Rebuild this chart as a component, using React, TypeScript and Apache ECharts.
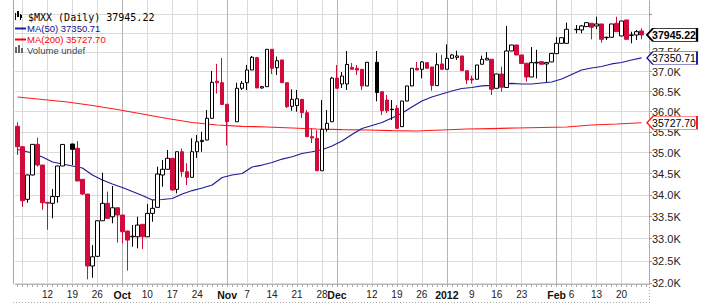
import React, { useEffect, useRef } from 'react';
import * as echarts from 'echarts';

// ---------- data ----------
const firstDay = '2011-09-02';
const dayCount = 127; // weekdays shown on the axis (last one empty)

const opens: (number | null)[] = [
  35640, 35145, 33899, 34470, 35202, 34706, 33830, 33806, 33964, 34683,
  null, 35210, 35106, 34368, 34023, 32384, 32600, 33405, 33806, 33497,
  33704, 33536, 33170, 33040, 33040, 33323, 33040, 33574, 33713, 34470,
  34605, 34866, 34132, 35024, 34548, 34415, 35024, 35270, 35306, 35836,
  36760, 36722, 36183, null, 35752, 36582, 36722, 37043, 37358, 36590,
  36622, 37573, 37102, 37299, 36722, 36133, 36150, 36306, 35974, 35387,
  35348, 34571, 35567, 35752, 36838, 36690, 36690, 37110, 37086, 37061,
  36640, null, 37240, 36496, 36289, 36060, 36083, 35631, 36264, 36640,
  37087, 37061, 37230, 37120, 36648, 37197, 37061, 37342, 37365, 37402,
  37025, 36820, 36808, 37189, 37299, 37317, 36581, 36942, 36602, 37530,
  37684, 37427, 37214, 36866, 37222, 37256, 37197, 37248, 37461, 37727,
  37727, null, 38092, 38074, 38161, 38249, 38179, 38231, 37873, 37884,
  38249, 37918, 38336, 37944, 37944, 38048,
];
const closes: (number | null)[] = [
  35145, 33867, 34470, 35202, 34706, 33820, 33810, 33964, 34683, 35200,
  null, 35082, 34328, 34023, 32384, 32590, 33405, 33806, 33460, 33704,
  33536, 33155, 32966, 33052, 33307, 33040, 33574, 33690, 34493, 34605,
  34866, 34116, 35024, 34548, 34415, 35024, 35265, 35300, 35836, 36732,
  36720, 36178, 35752, null, 36582, 36707, 37043, 37368, 36590, 36622,
  37573, 37086, 37281, 36722, 36123, 36306, 36320, 35974, 35387, 35355,
  34571, 35567, 35713, 36838, 36582, 36891, 37184, 37061, 37043, 36640,
  37240, null, 36476, 36024, 36024, 36048, 35591, 36264, 36640, 37087,
  37043, 37248, 37087, 36652, 37179, 37061, 37342, 37427, 37402, 37025,
  36790, 36790, 37171, 37317, 37342, 36556, 36942, 36607, 37530, 37684,
  37427, 37210, 36866, 37230, 37240, 37189, 37236, 37466, 37727, 37873,
  38092, null, 38082, 38179, 38266, 38145, 38231, 37831, 37884, 38231,
  38030, 38310, 37831, 37936, 38030, 37945.22,
];
const lows: (number | null)[] = [
  34945, 33728, 33820, 34460, 34667, 33656, 33200, 33460, 33820, 34683,
  null, 34706, 34328, 34000, 32090, 32125, 32595, 33400, 33455, 33346,
  32910, 32891, 32280, 32816, 32779, 32763, 33035, 33382, 33708, 34193,
  34600, 34110, 34039, 34429, 34233, 34410, 34873, 35024, 35300, 35830,
  36450, 36175, 35173, null, 35748, 36539, 36539, 37040, 36585, 36570,
  36620, 36942, 36916, 36718, 36090, 36024, 36000, 35843, 35383, 35233,
  34568, 34568, 35509, 35748, 36578, 36590, 36539, 37058, 36916, 36539,
  36636, null, 36257, 35917, 35966, 35794, 35588, 35623, 36260, 36636,
  37040, 36832, 37084, 36521, 36644, 37058, 37058, 37324, 37300, 37022,
  36690, 36700, 36805, 37186, 37296, 36414, 36578, 36496, 36598, 37527,
  37424, 37207, 36747, 36863, 36830, 37186, 36740, 37245, 37458, 37724,
  37724, null, 37988, 37988, 38158, 37831, 38100, 37743, 37813, 37880,
  38027, 37915, 37828, 37727, 37813, 37831,
];
const highs: (number | null)[] = [
  35738, 35160, 34480, 35210, 35362, 34710, 33840, 34139, 34690, 35210,
  null, 35215, 35282, 34370, 34025, 32853, 33410, 34524, 34081, 34210,
  33710, 33540, 33175, 33307, 33497, 33328, 33790, 33883, 34667, 34825,
  35065, 34870, 35030, 35106, 34747, 35348, 35428, 35509, 36041, 37020,
  37200, 37350, 36186, null, 36722, 36765, 37171, 37400, 37380, 36640,
  37580, 37578, 37385, 37302, 36725, 36556, 36540, 36310, 36041, 35590,
  35550, 36289, 36041, 36870, 37171, 36992, 37529, 37220, 37171, 37065,
  37245, null, 37529, 36500, 36414, 36289, 36165, 36268, 36645, 37090,
  37248, 37273, 37234, 37124, 37478, 37427, 37700, 37453, 37537, 37405,
  37028, 36900, 37175, 37410, 37504, 37320, 36945, 37128, 38179, 37688,
  37688, 37430, 37230, 37632, 37560, 37260, 37250, 37470, 37891, 37876,
  38266, null, 38205, 38205, 38270, 38252, 38423, 38234, 37900, 38235,
  38423, 38313, 38340, 38030, 38074, 38118,
];
// w = hollow (up), r = red filled, k = black filled, - = no trading
const candleKinds = (
  'rrwwrrrwww' + '-krrrwwwrw' + 'rrrwwrwwww' + 'wrwrrwwwww' + 'rrr-wwwwrw' +
  'wrwrrwwrrr' + 'rwwwrwwrrr' + 'w-krrkrwww' + 'rwrrwrwwwr' + 'rrwwwrwrww' +
  'rrrwwrwwww' + 'w-kwwrwrww' + 'rwrkwr'
).split('');

// moving averages: [day index, value]
const ma50Points: [number, number][] = [
  [0, 35077], [3, 34993], [5, 34897], [7, 34778], [10, 34707], [13, 34635], [15, 34470],
  [17, 34351], [19, 34257], [21, 34175], [23, 34081], [25, 33988], [27, 33885], [29, 33895],
  [31, 33918], [33, 34023], [35, 34104], [37, 34163], [39, 34234], [41, 34410], [43, 34470],
  [45, 34505], [47, 34659], [49, 34706], [51, 34766], [53, 34849], [55, 34904], [57, 34981],
  [59, 35024], [61, 35072], [63, 35162], [65, 35282], [67, 35440], [69, 35587], [71, 35660],
  [73, 35733], [75, 35843], [77, 35959], [79, 36115], [81, 36264], [83, 36364], [85, 36439],
  [87, 36514], [89, 36577], [91, 36602], [93, 36640], [95, 36653], [97, 36690], [99, 36703],
  [101, 36690], [103, 36690], [105, 36715], [107, 36740], [109, 36815], [111, 36929],
  [113, 37043], [115, 37094], [117, 37133], [119, 37197], [121, 37235], [123, 37299],
  [125, 37350.71],
];
const ma200Points: [number, number][] = [
  [0, 36364], [5, 36301], [10, 36239], [15, 36153], [20, 36053], [25, 35942], [30, 35831],
  [35, 35733], [40, 35672], [45, 35640], [50, 35623], [55, 35599], [60, 35574], [65, 35557],
  [70, 35550], [75, 35533], [80, 35526], [85, 35550], [90, 35574], [95, 35586], [100, 35599],
  [105, 35611], [110, 35623], [115, 35672], [120, 35697], [125, 35727.7],
];

const xTickDates = [
  '2011-09-05', '2011-09-12', '2011-09-19', '2011-09-26', '2011-10-03', '2011-10-10',
  '2011-10-17', '2011-10-24', '2011-11-01', '2011-11-07', '2011-11-14', '2011-11-21',
  '2011-11-28', '2011-12-01', '2011-12-12', '2011-12-19', '2011-12-26', '2012-01-02',
  '2012-01-09', '2012-01-16', '2012-01-23', '2012-02-01', '2012-02-06', '2012-02-13',
  '2012-02-20',
];
const xTickLabels = [
  '', '12', '19', '26', 'Oct', '10', '17', '24', 'Nov', '7', '14', '21', '28', 'Dec',
  '12', '19', '26', '2012', '9', '16', '23', 'Feb', '6', '13', '20',
];
const boldTickLabels = ['Oct', 'Nov', 'Dec', '2012', 'Feb'];
const monthStartDates = ['2011-10-03', '2011-11-01', '2011-12-01', '2012-01-02', '2012-02-01'];

const yGridValues = [32000, 32500, 33000, 33500, 34000, 34500, 35000, 35500, 36000, 36500, 37000, 37500, 38000, 38500];
// 38.0K sits fully behind the last-price tag in the reference, so it is not labelled
const yLabelValues = [32000, 32500, 33000, 33500, 34000, 34500, 35000, 35500, 36000, 36500, 37000, 37500];

const titleText = '$MXX (Daily) 37945.22';
const ma50Text = 'MA(50) 37350.71';
const ma200Text = 'MA(200) 35727.70';
const volumeText = 'Volume undef';

// ---------- helpers ----------
function tradingDays(start: string, n: number): string[] {
  const out: string[] = [];
  const d = new Date(start + 'T00:00:00Z');
  while (out.length < n) {
    const wd = d.getUTCDay();
    if (wd !== 0 && wd !== 6) out.push(d.toISOString().slice(0, 10));
    d.setUTCDate(d.getUTCDate() + 1);
  }
  return out;
}

const RED = '#d20a3c';
const NAVY = '#1e1e96';
const MA_RED = '#ff1a1a';

function buildOption() {
  const categories = tradingDays(firstDay, dayCount);
  const tickMap = new Map<number, string>();
  xTickDates.forEach((d, k) => tickMap.set(categories.indexOf(d), xTickLabels[k]));
  const monthIdx = new Set(monthStartDates.map((d) => categories.indexOf(d)));
  const lastIdx = closes.length - 1;
  const lastClose = closes[lastIdx] as number;
  const lastMa50 = ma50Points[ma50Points.length - 1];
  const lastMa200 = ma200Points[ma200Points.length - 1];

  const candleData = categories.map((_, i) => {
    if (i >= opens.length || opens[i] == null) return ['-', '-', '-', '-'];
    const k = candleKinds[i];
    const fill = k === 'w' ? '#ffffff' : k === 'k' ? '#000000' : RED;
    const border = k === 'r' ? RED : '#000000';
    return {
      value: [opens[i], closes[i], lows[i], highs[i]],
      itemStyle: { color: fill, color0: fill, borderColor: border, borderColor0: border, borderColorDoji: border },
    };
  });

  const tag = (text: string, border: string, bold: boolean, coord: [string, number]) => ({
    symbol: 'path://M0,6L6,0L50,0L50,12L6,12Z',
    symbolSize: [50, 13],
    symbolKeepAspect: false,
    symbolOffset: [30.5, 0],
    silent: true,
    label: {
      show: true,
      position: 'inside',
      offset: [2, 0],
      color: '#000',
      fontSize: 10.5,
      fontWeight: bold ? 'bold' : 'normal',
      fontFamily: 'Liberation Sans, Arial, sans-serif',
      formatter: () => text,
    },
    itemStyle: { color: '#ffffff', borderColor: border, borderWidth: bold ? 1.2 : 1 },
    data: [{ coord }],
  });

  const legendText = (text: string, x: number, y: number, fill: string, font: string) => ({
    type: 'text',
    silent: true,
    z: 100,
    style: { text, x, y, fill, font, verticalAlign: 'middle', textVerticalAlign: 'middle' },
  });
  const bar = (x: number, y: number, w: number, h: number, fill: string) => ({
    type: 'rect',
    silent: true,
    z: 100,
    shape: { x, y, width: w, height: h },
    style: { fill },
  });

  return {
    animation: false,
    backgroundColor: '#ffffff',
    textStyle: { fontFamily: 'Liberation Sans, Arial, sans-serif' },
    grid: { left: 15, right: 62, top: 0, bottom: 20, containLabel: false, outerBoundsMode: 'none' },
    xAxis: [
      {
        type: 'category',
        data: categories,
        boundaryGap: true,
        axisLine: { show: true, lineStyle: { color: '#b8b8b8', width: 1 } },
        axisTick: { show: true, interval: 0, length: 3, alignWithLabel: true, lineStyle: { color: '#aaaaaa' } },
        axisLabel: {
          show: true,
          interval: (index: number) => tickMap.has(index),
          margin: 5,
          fontSize: 10,
          color: '#222',
          formatter: (_v: string, index: number) => {
            const t = tickMap.get(index) ?? '';
            return boldTickLabels.includes(t) ? `{b|${t}}` : t;
          },
          rich: { b: { fontWeight: 'bold', fontSize: 10.5, color: '#111' } },
        },
        splitLine: {
          show: true,
          interval: (index: number) => tickMap.has(index),
          alignWithLabel: true,
          lineStyle: { color: '#dadada', width: 1 },
        },
      },
      {
        type: 'category',
        data: categories,
        boundaryGap: true,
        position: 'bottom',
        axisLine: { show: false },
        axisTick: { show: false, alignWithLabel: true },
        axisLabel: { show: false },
        splitLine: {
          show: true,
          interval: (index: number) => monthIdx.has(index),
          alignWithLabel: true,
          lineStyle: { color: '#b4b4b4', width: 1 },
        },
      },
    ],
    yAxis: {
      type: 'log',
      logBase: 10,
      position: 'right',
      min: 31987,
      max: 38865,
      axisLine: { show: true, lineStyle: { color: '#9a9a9a', type: 'dotted' } },
      axisTick: { show: true, customValues: yGridValues, length: 3, lineStyle: { color: '#9a9a9a' } },
      axisLabel: {
        show: true,
        customValues: yLabelValues,
        margin: 3,
        fontSize: 11,
        color: '#222',
        formatter: (v: number) => (Math.round(v / 100) / 10).toFixed(1) + 'K',
      },
      splitLine: { show: true, lineStyle: { color: '#dadada', width: 1 } },
    },
    series: [
      {
        type: 'line',
        name: 'MA200',
        data: ma200Points,
        showSymbol: false,
        symbol: 'none',
        clip: false,
        lineStyle: { color: MA_RED, width: 1.2 },
        z: 3,
        markPoint: tag(lastMa200[1].toFixed(2), MA_RED, false, [categories[lastMa200[0]], lastMa200[1]]),
      },
      {
        type: 'line',
        name: 'MA50',
        data: ma50Points,
        showSymbol: false,
        symbol: 'none',
        clip: false,
        lineStyle: { color: NAVY, width: 1.2 },
        z: 3,
        markPoint: tag(lastMa50[1].toFixed(2), NAVY, false, [categories[lastMa50[0]], lastMa50[1]]),
      },
      {
        type: 'candlestick',
        name: '$MXX',
        data: candleData,
        barWidth: 4,
        clip: false,
        z: 4,
        itemStyle: { color: '#ffffff', color0: RED, borderColor: '#000', borderColor0: RED, borderWidth: 1 },
        markPoint: tag(lastClose.toFixed(2), '#000000', true, [categories[lastIdx], lastClose]),
      },
    ],
    graphic: [
      // plot frame pieces
      { type: 'line', silent: true, z: 50, shape: { x1: 13.5, y1: 0, x2: 13.5, y2: 284 }, style: { stroke: '#a8a8a8', lineWidth: 1 } },
      { type: 'line', silent: true, z: 50, shape: { x1: 13, y1: 302.5, x2: 649, y2: 302.5 }, style: { stroke: '#aaaaaa', lineWidth: 1, lineDash: [1, 2] } },
      { type: 'line', silent: true, z: 50, shape: { x1: 649.5, y1: 284, x2: 649.5, y2: 303 }, style: { stroke: '#aaaaaa', lineWidth: 1, lineDash: [1, 2] } },
      // legend
      bar(15, 13, 1, 7, '#000'), bar(17, 11, 2, 6, '#000'), bar(20, 14, 1, 6, '#000'), bar(21, 15, 1, 3, '#000'),
      legendText(titleText, 28, 17, '#000000', "10px 'DejaVu Sans Mono', monospace"),
      bar(15, 27.5, 11, 2, NAVY),
      legendText(ma50Text, 27, 28.5, '#10108c', "9.5px 'Liberation Sans', Arial, sans-serif"),
      bar(15, 38.5, 11, 2, '#ff0000'),
      legendText(ma200Text, 27, 39.5, '#ff0000', "9.5px 'Liberation Sans', Arial, sans-serif"),
      bar(15, 47, 2, 6, '#666'), bar(18, 45, 2, 8, '#666'), bar(21, 48, 2, 5, '#666'),
      legendText(volumeText, 27, 50, '#444444', "9.5px 'Liberation Sans', Arial, sans-serif"),
    ],
  };
}

export default function App() {
  const ref = useRef<HTMLDivElement>(null);
  useEffect(() => {
    if (!ref.current) return;
    const chart = echarts.init(ref.current, null, { renderer: 'svg' });
    chart.setOption(buildOption() as any);
    return () => chart.dispose();
  }, []);
  return (
    <div
      ref={ref}
      style={{ position: 'fixed', left: 0, top: 0, width: 711, height: 304, background: '#fff' }}
    />
  );
}
